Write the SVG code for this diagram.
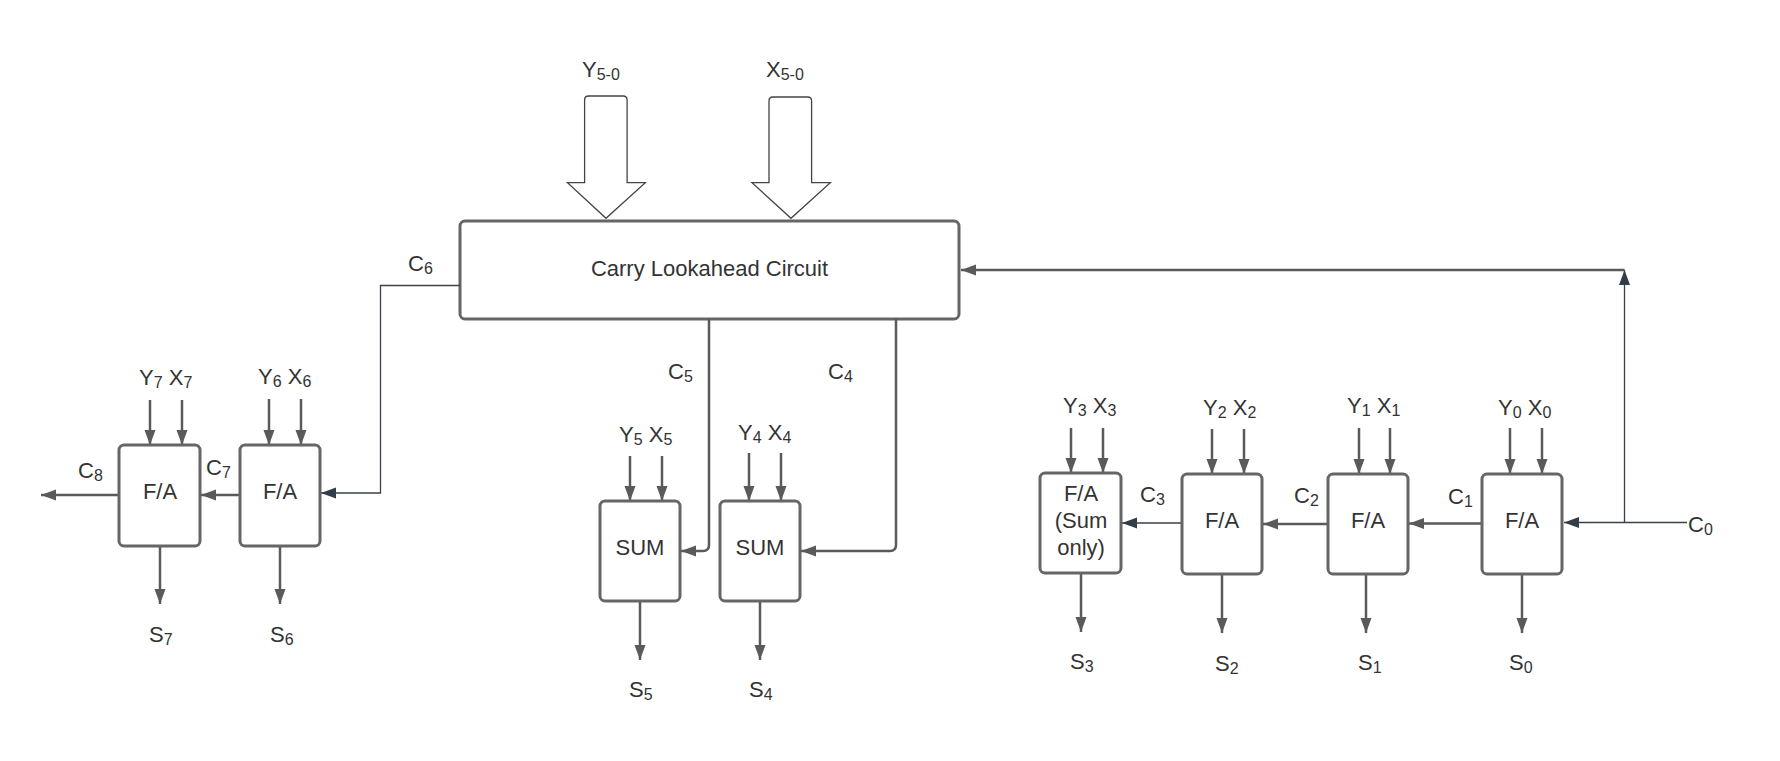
<svg xmlns="http://www.w3.org/2000/svg" width="1780" height="761" viewBox="0 0 1780 761">
<style>
text{font-family:"Liberation Sans",Arial,sans-serif;font-size:22px;fill:#333}
.s{font-size:16px}
.box{fill:#fff;stroke:#666;stroke-width:3}
.g{fill:none;stroke:#5a5a5a;stroke-width:2.5}
.d{fill:none;stroke:#3a4149;stroke-width:1.3}
.big{fill:#fff;stroke:#444;stroke-width:1.3}
</style>
<defs>
<marker id="ag" markerUnits="userSpaceOnUse" markerWidth="16" markerHeight="12" refX="15" refY="5.5" orient="auto"><path d="M0,0 L15,5.5 L0,11 z" fill="#5a5a5a"/></marker>
<marker id="ad" markerUnits="userSpaceOnUse" markerWidth="16" markerHeight="12" refX="15" refY="5.5" orient="auto"><path d="M0,0 L15,5.5 L0,11 z" fill="#333d47"/></marker>
</defs>
<rect width="1780" height="761" fill="#fff"/>

<g id="bus-y">
<path class="big" d="M588.6,96 H623.1 Q627.1,96 627.1,100 V182.7 H645.3 L606,218.3 L567.5,182.7 H584.6 V100 Q584.6,96 588.6,96 z"/>
<text x="582" y="77">Y<tspan class="s" dy="3">5-0</tspan></text>
</g>
<g id="bus-x">
<path class="big" d="M773,97 H807.6 Q811.6,97 811.6,101 V182.7 H830.3 L791,218.3 L752,182.7 H769 V101 Q769,97 773,97 z"/>
<text x="766" y="77">X<tspan class="s" dy="3">5-0</tspan></text>
</g>

<g id="cla">
<rect class="box" x="460" y="221" width="499" height="98" rx="5"/>
<text x="709.5" y="276" text-anchor="middle">Carry Lookahead Circuit</text>
</g>

<g id="connectors">
<path class="g" marker-end="url(#ag)" d="M150,400 V445"/>
<path class="g" marker-end="url(#ag)" d="M182,400 V445"/>
<path class="g" marker-end="url(#ag)" d="M269,399 V445"/>
<path class="g" marker-end="url(#ag)" d="M301,399 V445"/>
<path class="g" marker-end="url(#ag)" d="M630,456 V501"/>
<path class="g" marker-end="url(#ag)" d="M662,456 V501"/>
<path class="g" marker-end="url(#ag)" d="M749,453 V501"/>
<path class="g" marker-end="url(#ag)" d="M781,453 V501"/>
<path class="g" marker-end="url(#ag)" d="M1071,428 V473"/>
<path class="g" marker-end="url(#ag)" d="M1103,428 V473"/>
<path class="g" marker-end="url(#ag)" d="M1212,429 V474"/>
<path class="g" marker-end="url(#ag)" d="M1244,429 V474"/>
<path class="g" marker-end="url(#ag)" d="M1359,428 V474"/>
<path class="g" marker-end="url(#ag)" d="M1390,428 V474"/>
<path class="g" marker-end="url(#ag)" d="M1510,428 V474"/>
<path class="g" marker-end="url(#ag)" d="M1542,428 V474"/>
<path class="g" marker-end="url(#ag)" d="M160,546 V604"/>
<path class="g" marker-end="url(#ag)" d="M280,546 V604"/>
<path class="g" marker-end="url(#ag)" d="M640,601 V660"/>
<path class="g" marker-end="url(#ag)" d="M760,601 V660"/>
<path class="g" marker-end="url(#ag)" d="M1081,573 V632"/>
<path class="g" marker-end="url(#ag)" d="M1222,574 V633"/>
<path class="g" marker-end="url(#ag)" d="M1366,574 V633"/>
<path class="g" marker-end="url(#ag)" d="M1522,574 V633"/>
<path class="g" marker-end="url(#ag)" d="M119,495 H41"/>
<path class="g" marker-end="url(#ag)" d="M240,495 H201"/>
<path class="d" marker-end="url(#ad)" d="M460,285.5 H380.5 V493 H321"/>
<path class="g" marker-end="url(#ag)" d="M709,319 V545 Q709,551 703,551 H681"/>
<path class="g" marker-end="url(#ag)" d="M896,319 V545 Q896,551 890,551 H801"/>
<path class="d" marker-end="url(#ad)" d="M1182,523 H1122"/>
<path class="g" marker-end="url(#ag)" d="M1328,524 H1263"/>
<path class="g" marker-end="url(#ag)" d="M1482,523.5 H1409"/>
<path class="d" marker-end="url(#ad)" d="M1687,522.5 H1564"/>
<path class="d" marker-end="url(#ad)" d="M1624.5,522.5 V270"/>
<path class="g" marker-end="url(#ag)" d="M1624.5,270 H961"/>
</g>

<g id="fa7">
<rect class="box" x="119" y="445" width="81" height="101" rx="5"/>
<text x="160" y="499" text-anchor="middle">F/A</text>
</g>
<g id="fa6">
<rect class="box" x="240" y="445" width="80" height="101" rx="5"/>
<text x="280" y="499" text-anchor="middle">F/A</text>
</g>
<g id="sum5">
<rect class="box" x="600" y="501" width="80" height="100" rx="5"/>
<text x="640" y="555" text-anchor="middle">SUM</text>
</g>
<g id="sum4">
<rect class="box" x="720" y="501" width="80" height="100" rx="5"/>
<text x="760" y="555" text-anchor="middle">SUM</text>
</g>
<g id="fa3">
<rect class="box" x="1040" y="473" width="81" height="100" rx="5"/>
<text x="1081" y="501" text-anchor="middle">F/A</text>
<text x="1081" y="528" text-anchor="middle">(Sum</text>
<text x="1081" y="555" text-anchor="middle">only)</text>
</g>
<g id="fa2">
<rect class="box" x="1182" y="474" width="80" height="100" rx="5"/>
<text x="1222" y="528" text-anchor="middle">F/A</text>
</g>
<g id="fa1">
<rect class="box" x="1328" y="474" width="80" height="100" rx="5"/>
<text x="1368" y="528" text-anchor="middle">F/A</text>
</g>
<g id="fa0">
<rect class="box" x="1482" y="474" width="80" height="100" rx="5"/>
<text x="1522" y="528" text-anchor="middle">F/A</text>
</g>

<g id="labels">
<text x="408" y="271">C<tspan class="s" dy="3">6</tspan></text>
<text x="668" y="379">C<tspan class="s" dy="3">5</tspan></text>
<text x="828" y="379">C<tspan class="s" dy="3">4</tspan></text>
<text x="139" y="385">Y<tspan class="s" dy="3">7</tspan><tspan dy="-3"> X</tspan><tspan class="s" dy="3">7</tspan></text>
<text x="258" y="384">Y<tspan class="s" dy="3">6</tspan><tspan dy="-3"> X</tspan><tspan class="s" dy="3">6</tspan></text>
<text x="78" y="478">C<tspan class="s" dy="3">8</tspan></text>
<text x="206" y="475">C<tspan class="s" dy="3">7</tspan></text>
<text x="149" y="642">S<tspan class="s" dy="3">7</tspan></text>
<text x="270" y="642">S<tspan class="s" dy="3">6</tspan></text>
<text x="619" y="442">Y<tspan class="s" dy="3">5</tspan><tspan dy="-3"> X</tspan><tspan class="s" dy="3">5</tspan></text>
<text x="738" y="440">Y<tspan class="s" dy="3">4</tspan><tspan dy="-3"> X</tspan><tspan class="s" dy="3">4</tspan></text>
<text x="629" y="697">S<tspan class="s" dy="3">5</tspan></text>
<text x="749" y="697">S<tspan class="s" dy="3">4</tspan></text>
<text x="1063" y="413">Y<tspan class="s" dy="3">3</tspan><tspan dy="-3"> X</tspan><tspan class="s" dy="3">3</tspan></text>
<text x="1203" y="415">Y<tspan class="s" dy="3">2</tspan><tspan dy="-3"> X</tspan><tspan class="s" dy="3">2</tspan></text>
<text x="1347" y="413">Y<tspan class="s" dy="3">1</tspan><tspan dy="-3"> X</tspan><tspan class="s" dy="3">1</tspan></text>
<text x="1498" y="415">Y<tspan class="s" dy="3">0</tspan><tspan dy="-3"> X</tspan><tspan class="s" dy="3">0</tspan></text>
<text x="1140" y="502">C<tspan class="s" dy="3">3</tspan></text>
<text x="1294" y="503">C<tspan class="s" dy="3">2</tspan></text>
<text x="1448" y="504">C<tspan class="s" dy="3">1</tspan></text>
<text x="1688" y="532">C<tspan class="s" dy="3">0</tspan></text>
<text x="1070" y="669">S<tspan class="s" dy="3">3</tspan></text>
<text x="1215" y="671">S<tspan class="s" dy="3">2</tspan></text>
<text x="1358" y="670">S<tspan class="s" dy="3">1</tspan></text>
<text x="1509" y="670">S<tspan class="s" dy="3">0</tspan></text>
</g>
</svg>
